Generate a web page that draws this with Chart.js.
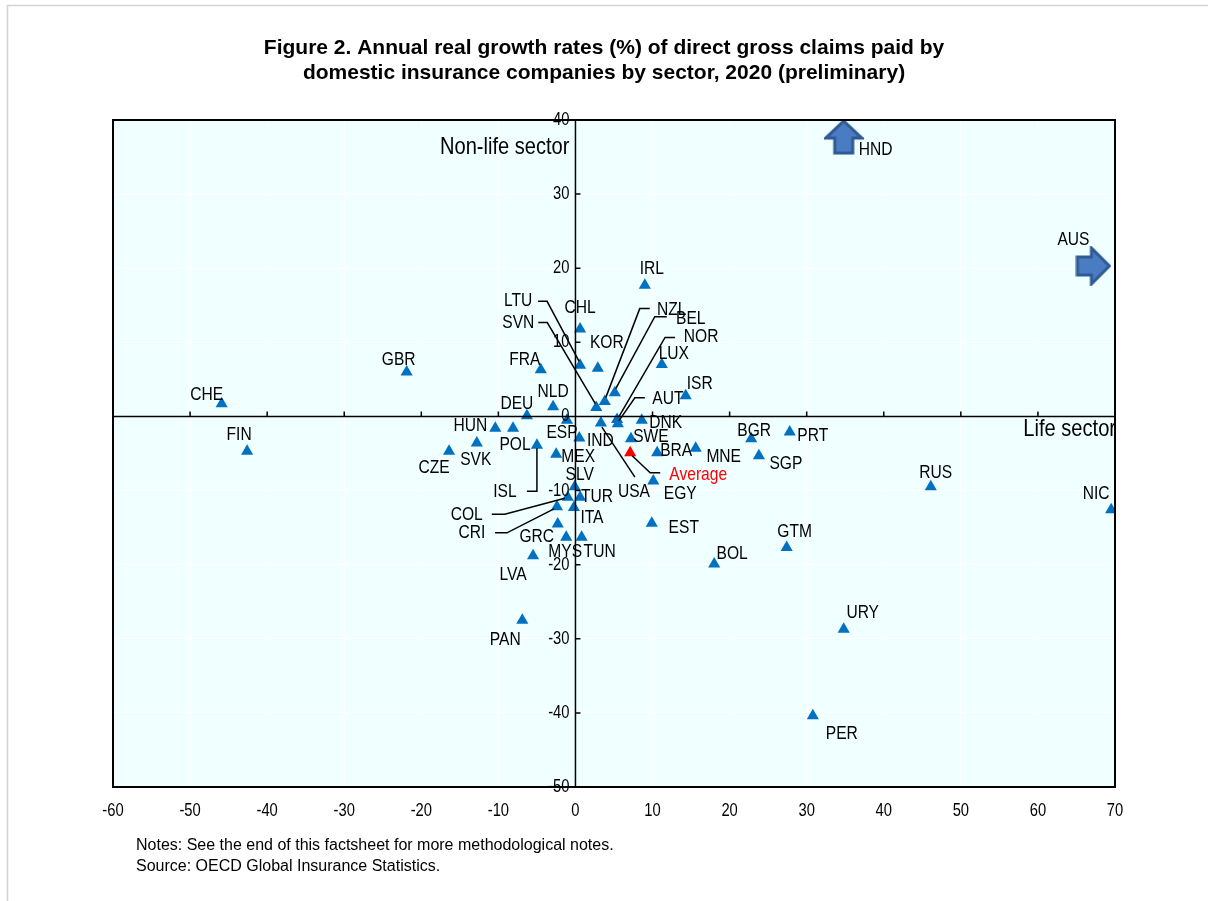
<!DOCTYPE html>
<html>
<head>
<meta charset="utf-8">
<script src="https://cdn.jsdelivr.net/npm/chart.js@4/dist/chart.umd.min.js"></script>
<style>
  html, body { margin: 0; padding: 0; background: #fff; }
  #wrap { position: relative; width: 1208px; height: 901px; }
</style>
</head>
<body>
<div id="wrap"><canvas id="scatter" width="1208" height="901"></canvas></div>
<script>
// life sector growth (x) and non-life sector growth (y), %
const countries = ["CHE","FIN","GBR","CZE","SVK","HUN","POL","DEU","NLD","ESP","FRA","ISL","MEX",
  "CHL","LTU","SVN","KOR","NZL","BEL","NOR","AUT","LUX","ISR","DNK","SWE","IND","BRA","MNE","USA",
  "EGY","EST","IRL","BGR","PRT","SGP","RUS","NIC","GTM","BOL","URY","PER","SLV","TUR","COL","CRI",
  "ITA","GRC","MYS","TUN","LVA","PAN"];
const lifeGrowth = [-45.9,-42.6,-21.9,-16.4,-12.8,-10.4,-8.1,-6.3,-2.9,-1.1,-4.5,-5.0,-2.5,
  0.6,0.6,2.7,2.9,3.8,5.1,5.4,5.5,11.2,14.3,8.6,7.2,0.5,10.6,15.6,3.3,
  10.1,9.9,9.0,22.8,27.8,23.8,46.1,69.5,27.4,18.0,34.8,30.8,-0.1,0.6,-1.0,-2.4,
  -0.2,-2.3,-1.2,0.8,-5.5,-6.9];
const nonLifeGrowth = [1.7,-4.7,6.0,-4.7,-3.6,-1.6,-1.6,0.1,1.3,-0.5,6.3,-3.9,-5.1,
  11.8,6.9,1.2,6.5,2.0,3.2,-0.4,-1.0,7.0,2.8,-0.5,-3.0,-2.9,-4.9,-4.3,-0.9,
  -8.7,-14.4,17.7,-3.0,-2.1,-5.3,-9.5,-12.6,-17.7,-19.9,-28.7,-40.4,-9.5,-10.9,-10.9,-12.2,
  -12.3,-14.5,-16.3,-16.3,-18.8,-27.5];
const avgLife = [7.1];
const avgNonLife = [-4.9];
// off-scale values, shown as arrows at the edge of the plot
const offCountries = ["HND","AUS"];
const offLife = [34.8,67.2];
const offNonLife = [37.7,20.3];
const xRange = [-60,70];
const yRange = [-50,40];

const sans = '"Liberation Sans", Arial, sans-serif';
const SQUEEZE = 0.82; // Arial Narrow look

// label placement relative to the marker (pixels), optional leader line
const labelPos = {
  CHE:[-15,-9], FIN:[-8,-17], GBR:[-8,-12], CZE:[-15,16], SVK:[-1,17], HUN:[-25,-3], POL:[2,16],
  DEU:[-10,-12], NLD:[0,-15], ESP:[-5,13], FRA:[-16,-10], MEX:[22,3], CHL:[0,-21], KOR:[9,-26],
  LUX:[12,-11], ISR:[14,-12], DNK:[24,3], SWE:[20,-2], IND:[21,3], BRA:[19,-2], MNE:[28,8],
  EGY:[27,13], EST:[32,5], IRL:[7,-17], BGR:[3,-8], PRT:[23,4], SGP:[27,8], RUS:[5,-14],
  NIC:[-15,-16], GTM:[8,-16], BOL:[18,-10], URY:[19,-16], PER:[29,18], SLV:[5,-12], TUR:[17,0],
  ITA:[18,10], GRC:[-21,13], MYS:[-1,15], TUN:[18,15], LVA:[-20,19], PAN:[-17,20],
  HND:[32,13], AUS:[-20,-26],
  ISL:[-32,46,[[0,3],[0,46],[-10,46]]],
  LTU:[-62,-65,[[-1,-4],[-33,-64],[-42,-64]]],
  SVN:[-78,-85,[[-1,-4],[-49,-85],[-58,-85]]],
  NZL:[67,-92,[[1,-4],[35,-93],[45,-93]]],
  BEL:[76,-74,[[1,-4],[40,-76],[52,-76]]],
  NOR:[84,-83,[[2,-3],[48,-82],[58,-82]]],
  AUT:[50,-25,[[1,-3],[17,-26],[27,-26]]],
  USA:[33,69,[[1,4],[34,54]]],
  COL:[-101,18,[[-3,1],[-63,17],[-76,17]]],
  CRI:[-85,26,[[-3,2],[-50,26],[-62,26]]],
  Average:[68,22,[[2,3],[20,20],[30,20]]]
};

function arrowIcon(dir) {
  const c = document.createElement('canvas');
  const g = c.getContext('2d');
  if (dir === 'up') {
    c.width = 40; c.height = 36;
    g.beginPath();
    g.moveTo(20,2); g.lineTo(38,19); g.lineTo(29,19); g.lineTo(29,34);
    g.lineTo(11,34); g.lineTo(11,19); g.lineTo(2,19); g.closePath();
  } else {
    c.width = 36; c.height = 40;
    g.beginPath();
    g.moveTo(34,20); g.lineTo(16,2); g.lineTo(16,11); g.lineTo(2,11);
    g.lineTo(2,29); g.lineTo(16,29); g.lineTo(16,38); g.closePath();
  }
  g.fillStyle = '#4A7CC4'; g.fill();
  g.lineWidth = 3; g.strokeStyle = '#2F5A94'; g.stroke();
  return c;
}

// narrow text: Liberation Sans squeezed horizontally
function narrowText(ctx, text, x, y, align, size) {
  ctx.save();
  ctx.translate(x, y);
  ctx.scale(SQUEEZE, 1);
  ctx.font = size + 'px ' + sans;
  ctx.textAlign = align;
  ctx.textBaseline = 'middle';
  ctx.fillText(text, 0, 0);
  ctx.restore();
}

const toPoints = (xs, ys) => xs.map((v, i) => ({x: v, y: ys[i]}));

const frame = {
  id: 'frame',
  beforeDraw(chart) {
    const {ctx, chartArea: a} = chart;
    ctx.save();
    ctx.fillStyle = '#fff';
    ctx.fillRect(0, 0, chart.width, chart.height);
    ctx.strokeStyle = '#D4D4D4'; ctx.lineWidth = 1.5;
    ctx.beginPath(); ctx.moveTo(7.5, 901); ctx.lineTo(7.5, 5.5); ctx.lineTo(1208, 5.5); ctx.stroke();
    ctx.fillStyle = '#F0FFFF';
    ctx.fillRect(a.left, a.top, a.right - a.left, a.bottom - a.top);
    ctx.fillStyle = '#000';
    ctx.textAlign = 'center'; ctx.textBaseline = 'middle';
    ctx.font = 'bold 21px ' + sans;
    ctx.fillText('Figure 2. Annual real growth rates (%) of direct gross claims paid by', 604, 48);
    ctx.fillText('domestic insurance companies by sector, 2020 (preliminary)', 604, 73);
    ctx.textAlign = 'left';
    ctx.font = '16px ' + sans;
    ctx.fillText('Notes: See the end of this factsheet for more methodological notes.', 136, 846);
    ctx.fillText('Source: OECD Global Insurance Statistics.', 136, 867);
    ctx.restore();
  },
  afterDatasetsDraw(chart) {
    const {ctx, chartArea: a, scales: {x, y}} = chart;
    const x0 = x.getPixelForValue(0), y0 = y.getPixelForValue(0);
    ctx.save();
    ctx.strokeStyle = '#000'; ctx.lineWidth = 1.5;
    ctx.beginPath();
    ctx.moveTo(a.left, y0); ctx.lineTo(a.right, y0);
    ctx.moveTo(x0, a.top); ctx.lineTo(x0, a.bottom);
    x.ticks.forEach(t => {
      if (t.value === xRange[0] || t.value === xRange[1]) return;
      const px = x.getPixelForValue(t.value);
      ctx.moveTo(px, y0); ctx.lineTo(px, y0 - 5);
    });
    y.ticks.forEach(t => {
      if (t.value === yRange[0] || t.value === yRange[1]) return;
      const py = y.getPixelForValue(t.value);
      ctx.moveTo(x0, py); ctx.lineTo(x0 + 5, py);
    });
    ctx.stroke();
    ctx.lineWidth = 2;
    ctx.strokeRect(a.left, a.top, a.right - a.left, a.bottom - a.top);

    ctx.fillStyle = '#000';
    // tick labels from the library's scales
    x.ticks.forEach(t => narrowText(ctx, String(t.value), x.getPixelForValue(t.value), a.bottom + 24, 'center', 18));
    y.ticks.forEach(t => narrowText(ctx, String(t.value), x0 - 6, y.getPixelForValue(t.value), 'right', 18));

    narrowText(ctx, 'Non-life sector', x0 - 6, a.top + 27, 'right', 24.5);
    narrowText(ctx, 'Life sector', a.right + 1, y0 + 13, 'right', 24.5);

    ctx.lineWidth = 1.5;
    ctx.strokeStyle = '#000';
    chart.data.datasets.forEach((ds, di) => {
      const meta = chart.getDatasetMeta(di);
      meta.data.forEach((pt, i) => {
        const code = ds.codes[i];
        const p = labelPos[code];
        if (!p) return;
        if (p[2]) {
          ctx.beginPath();
          p[2].forEach((o, k) => k ? ctx.lineTo(pt.x + o[0], pt.y + o[1]) : ctx.moveTo(pt.x + o[0], pt.y + o[1]));
          ctx.stroke();
        }
        ctx.fillStyle = code === 'Average' ? '#FF0000' : '#000';
        narrowText(ctx, code, pt.x + p[0], pt.y + p[1], 'center', 19);
      });
    });
    ctx.restore();
  }
};

new Chart(document.getElementById('scatter'), {
  type: 'scatter',
  data: {
    datasets: [{
      data: toPoints(lifeGrowth, nonLifeGrowth),
      codes: countries,
      pointStyle: 'triangle',
      pointRadius: 7,
      backgroundColor: '#0070C0',
      borderWidth: 0
    }, {
      data: toPoints(avgLife, avgNonLife),
      codes: ['Average'],
      pointStyle: 'triangle',
      pointRadius: 7,
      backgroundColor: '#FF0000',
      borderWidth: 0
    }, {
      data: toPoints(offLife, offNonLife),
      codes: offCountries,
      pointStyle: [arrowIcon('up'), arrowIcon('right')],
      backgroundColor: '#4A7CC4'
    }]
  },
  options: {
    responsive: false,
    animation: false,
    layout: { padding: { left: 113, right: 93, top: 120, bottom: 74 } },
    plugins: { legend: { display: false }, tooltip: { enabled: false } },
    scales: {
      x: {
        type: 'linear',
        min: xRange[0], max: xRange[1],
        ticks: { stepSize: 10, display: false },
        grid: { color: '#FFFFFF', lineWidth: 1, drawTicks: false },
        border: { display: false },
        afterFit(s) { s.height = 40; }
      },
      y: {
        type: 'linear',
        position: { x: 0 },
        min: yRange[0], max: yRange[1],
        ticks: { stepSize: 10, display: false },
        grid: { color: '#FFFFFF', lineWidth: 1, drawTicks: false },
        border: { display: false }
      }
    }
  },
  plugins: [frame]
});
</script>
</body>
</html>
